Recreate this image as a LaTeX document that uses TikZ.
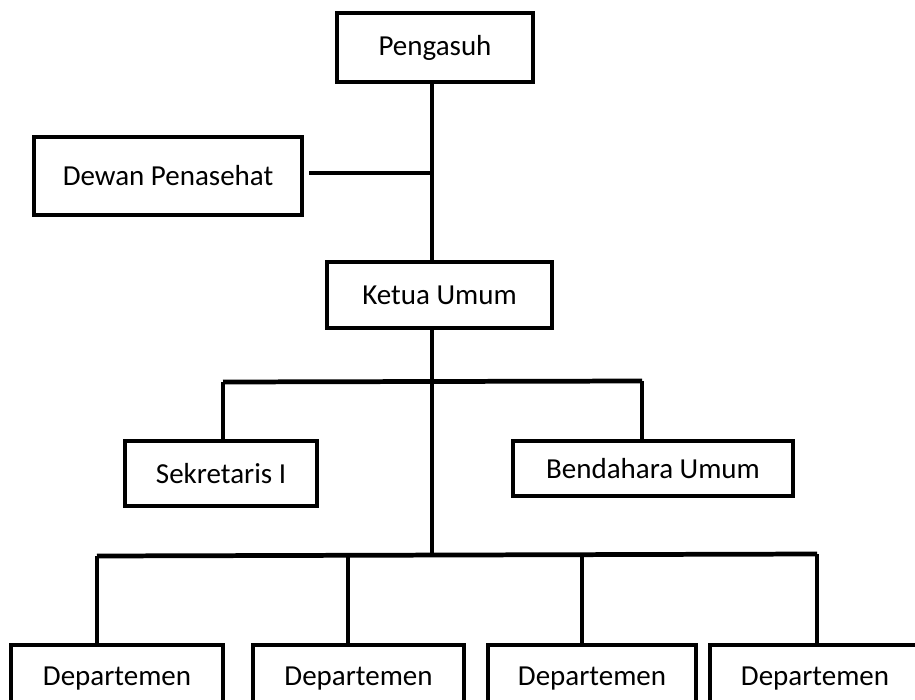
\documentclass[tikz,border=0pt]{standalone}
\usepackage{fontspec}
\setmainfont{Carlito}
\tikzset{
  jabatan/.style={draw, line width=2.8pt, fill=white, inner sep=0pt,
    font=\fontsize{16.5}{20}\selectfont},
  garis/.style={line width=2.7pt}
}
\begin{document}
\begin{tikzpicture}[x=0.02cm, y=-0.02cm]
    \useasboundingbox (0,0) rectangle (915,699);
    \clip (0,0) rectangle (915,699);
    \node[jabatan, minimum width=3.92cm, minimum height=1.38cm] (pengasuh) at (435,47.5) {Pengasuh};
    \node[jabatan, minimum width=5.36cm, minimum height=1.56cm] (dewan) at (168,176) {Dewan Penasehat};
    \node[jabatan, minimum width=4.5cm, minimum height=1.32cm] (ketua) at (439.5,295) {Ketua Umum};
    \node[jabatan, minimum width=3.84cm, minimum height=1.3cm] (sekretaris) at (221,473.5) {Sekretaris I};
    \node[jabatan, minimum width=5.6cm, minimum height=1.1cm] (bendahara) at (653,468.5) {Bendahara Umum};
    \node[jabatan, minimum width=4.24cm, minimum height=1.34cm] (dept1) at (117,678.5) {Departemen};
    \node[jabatan, minimum width=4.22cm, minimum height=1.34cm] (dept2) at (358.5,678.5) {Departemen};
    \node[jabatan, minimum width=4.16cm, minimum height=1.34cm] (dept3) at (592,678.5) {Departemen};
    \node[jabatan, minimum width=4.2cm, minimum height=1.34cm] (dept4) at (815,678.5) {Departemen};
    % titik cabang
    \coordinate (j1) at (432,173);
    \coordinate (j2) at (432,381);
    \coordinate (j3) at (432,555);
    \coordinate (s1) at (223,382);
    \coordinate (s2) at (642,381);
    \coordinate (d1) at (97,556);
    \coordinate (d2) at (348,555);
    \coordinate (d3) at (582,555);
    \coordinate (d4) at (817,554);
    % garis
    \draw[garis] (pengasuh.south -| j1) -- (ketua.north -| j1);
    \draw[garis] ([xshift=0.1cm]dewan.east |- j1) -- (j1);
    \draw[garis] (ketua.south -| j1) -- (j3);
    \draw[garis] (s1) -- (s2);
    \draw[garis] (s1) -- (sekretaris.north -| s1);
    \draw[garis] (s2) -- (bendahara.north -| s2);
    \draw[garis] (d1) -- (d4);
    \draw[garis] (d1) -- (dept1.north -| d1);
    \draw[garis] (d2) -- (dept2.north -| d2);
    \draw[garis] (d3) -- (dept3.north -| d3);
    \draw[garis] (d4) -- (dept4.north -| d4);
\end{tikzpicture}
\end{document}
